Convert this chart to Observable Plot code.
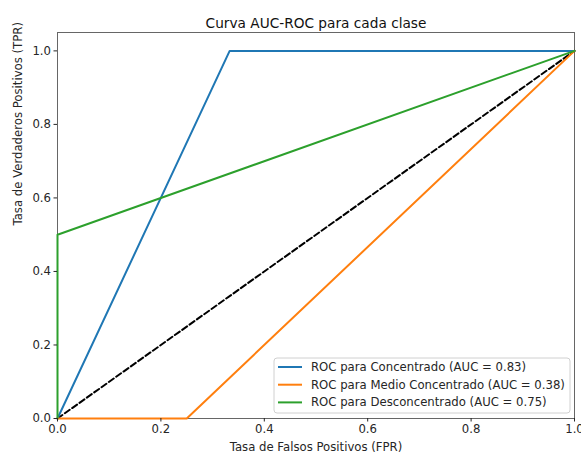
<!DOCTYPE html>
<html>
<head>
<meta charset="utf-8">
<script src="https://cdn.jsdelivr.net/npm/d3@7"></script>
<script src="https://cdn.jsdelivr.net/npm/@observablehq/plot@0.6"></script>
<style>
  html, body { margin: 0; padding: 0; background: #fff; }
  svg { font-family: "DejaVu Sans", sans-serif; }
</style>
</head>
<body>
<div id="chart"></div>
<script>
// ---- data ----
const seriesNames = [
  "ROC para Concentrado (AUC = 0.83)",
  "ROC para Medio Concentrado (AUC = 0.38)",
  "ROC para Desconcentrado (AUC = 0.75)"
];
const seriesColors = ["#1f77b4", "#ff7f0e", "#2ca02c"];
const fprConcentrado = [0, 0.333, 1];
const tprConcentrado = [0, 1, 1];
const fprMedio = [0, 0.25, 1];
const tprMedio = [0, 0, 1];
const fprDescon = [0, 0, 1];
const tprDescon = [0, 0.5, 1];
const diagX = [0, 1];
const diagY = [0, 1];
const tickValues = [0, 0.2, 0.4, 0.6, 0.8, 1.0];
const titleText = "Curva AUC-ROC para cada clase";
const xLabel = "Tasa de Falsos Positivos (FPR)";
const yLabel = "Tasa de Verdaderos Positivos (TPR)";

const seriesX = [fprConcentrado, fprMedio, fprDescon];
const seriesY = [tprConcentrado, tprMedio, tprDescon];
const rows = [];
seriesNames.forEach((s, i) => seriesX[i].forEach((x, j) => rows.push({series: s, x, y: seriesY[i][j]})));
const diag = diagX.map((x, i) => ({x, y: diagY[i]}));

const FS = 11.7;

function legendMark(index, scales, values, dims) {
  const g = d3.create("svg:g");
  const right = dims.width - dims.marginRight;
  const bottom = dims.height - dims.marginBottom;
  const boxW = 296, rowH = 17.7, boxH = 55;
  const x0 = right - 4 - boxW, y0 = bottom - 5 - boxH;
  g.append("rect").attr("x", x0).attr("y", y0).attr("width", boxW).attr("height", boxH)
    .attr("rx", 3).attr("fill", "white").attr("fill-opacity", 0.85).attr("stroke", "#d0d0d0");
  seriesNames.forEach((name, i) => {
    const cy = y0 + 9 + i * rowH;
    g.append("line").attr("x1", x0 + 4).attr("x2", x0 + 28).attr("y1", cy).attr("y2", cy)
      .attr("stroke", seriesColors[i]).attr("stroke-width", 2);
    g.append("text").attr("x", x0 + 37).attr("y", cy).attr("dy", "0.35em")
      .attr("text-anchor", "start")
      .attr("font-size", FS).attr("fill", "#262626").text(name);
  });
  return g.node();
}

const chart = Plot.plot({
  width: 581,
  height: 458,
  marginLeft: 57,
  marginRight: 7,
  marginTop: 32,
  marginBottom: 40,
  style: {fontFamily: "DejaVu Sans, sans-serif", fontSize: FS + "px", color: "#262626", background: "white", overflow: "visible"},
  x: {domain: [0, 1], ticks: tickValues, tickFormat: d3.format(".1f"), label: null},
  y: {domain: [0, 1.05], ticks: tickValues, tickFormat: d3.format(".1f"), label: null},
  color: {domain: seriesNames, range: seriesColors},
  marks: [
    Plot.frame({stroke: "#666", strokeWidth: 1}),
    Plot.line(diag, {x: "x", y: "y", stroke: "black", strokeWidth: 2, strokeDasharray: "6,3"}),
    Plot.line(rows, {x: "x", y: "y", z: "series", stroke: "series", strokeWidth: 2}),
    Plot.axisX({ticks: tickValues, tickFormat: d3.format(".1f"), tickSize: 3.5, tickPadding: 3, label: null, fontSize: FS}),
    Plot.axisY({ticks: tickValues, tickFormat: d3.format(".1f"), tickSize: 3.5, tickPadding: 3, label: null, fontSize: FS}),
    Plot.text([titleText], {frameAnchor: "top", dy: -14, fontSize: 13.7, fill: "#111"}),
    Plot.text([xLabel], {frameAnchor: "bottom", dy: 32, fontSize: FS, fill: "#262626"}),
    Plot.text([yLabel], {frameAnchor: "left", dx: -39, rotate: -90, fontSize: FS, fill: "#262626"}),
    legendMark
  ]
});
document.getElementById("chart").appendChild(chart);
</script>
</body>
</html>
